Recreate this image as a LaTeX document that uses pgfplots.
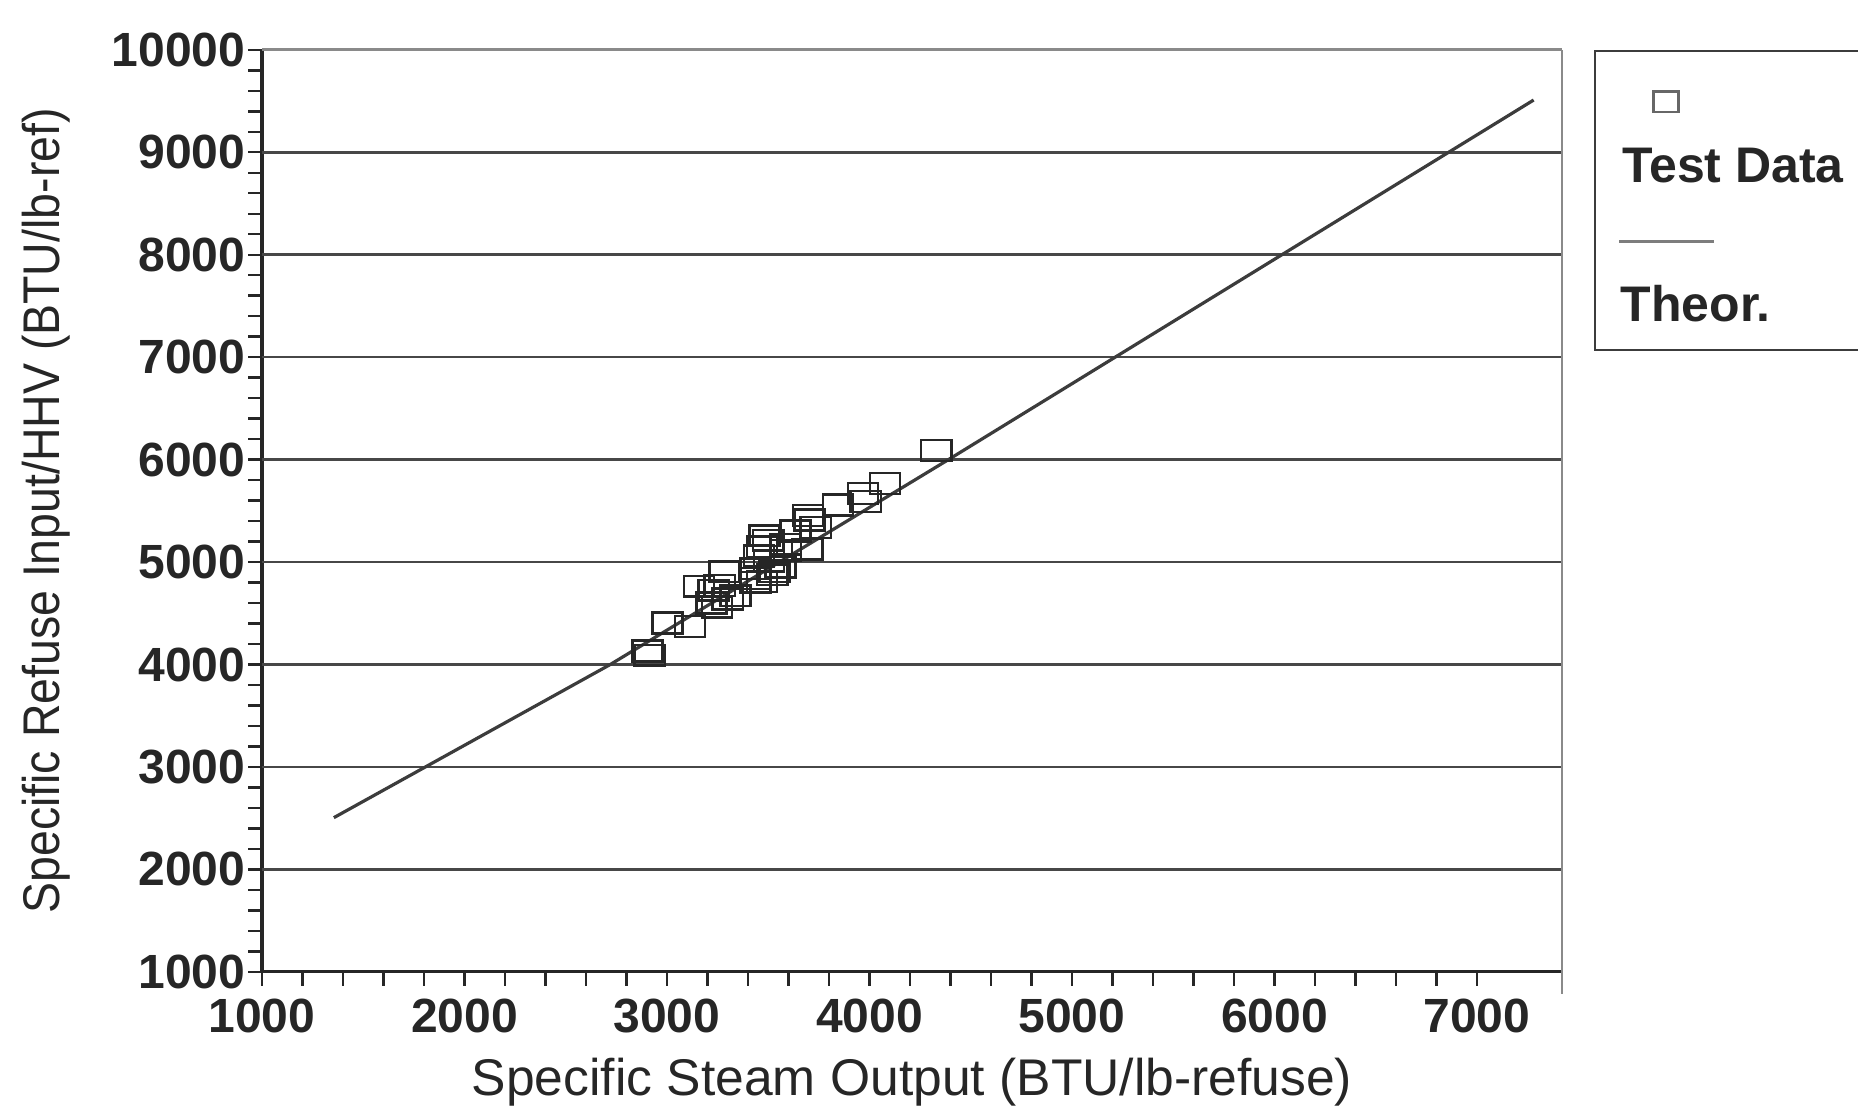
\documentclass[border=0pt]{standalone}
\usepackage{pgfplots}
\pgfplotsset{compat=1.18}
\usepackage{fontspec}
\setmainfont{Liberation Sans}
\definecolor{ink}{HTML}{262626}
\definecolor{frame}{HTML}{8A8A8A}
\begin{document}
\begin{tikzpicture}
\begin{axis}[
  scale only axis,
  width=325pt, height=230.5pt,
  xmin=1000, xmax=7420, ymin=1000, ymax=10000,
  axis lines*=left,
  axis line style={ink, line width=0.8pt},
  xtick={1000,2000,...,7000},
  ytick={1000,2000,...,10000},
  scaled x ticks=false, scaled y ticks=false,
  minor x tick num=4, minor y tick num=4,
  tick align=outside,
  major tick length=3.5pt, minor tick length=3.5pt,
  tick style={ink, line width=0.6pt},
  extra y ticks={2000,3000,...,9000},
  extra y tick labels={},
  extra y tick style={grid=major, major tick length=0pt},
  grid style={ink!85, line width=0.65pt},
  /pgf/number format/assume math mode=true,
  /pgf/number format/1000 sep={},
  xticklabel style={font=\fontsize{12}{14}\selectfont\bfseries, text=ink, inner sep=0pt, anchor=north, yshift=-3pt},
  yticklabel style={font=\fontsize{12}{14}\selectfont\bfseries, text=ink, inner sep=0pt, anchor=east, xshift=-0.5pt},
  every axis x label/.style={at={([yshift=-31pt]rel axis cs:0.5,0)}, anchor=base, font=\fontsize{12.9}{15}\selectfont, text=ink},
  every axis y label/.style={at={([xshift=-54pt]rel axis cs:0,0.5)}, anchor=center, rotate=90, font=\fontsize{12.9}{15}\selectfont, text=ink},
  xlabel={Specific Steam Output (BTU/lb-refuse)},
  ylabel={\scalebox{0.9}[1]{Specific Refuse Input/HHV (BTU/lb-ref)}},
  clip=false,
  legend style={at={(rel axis cs:1.0246,1.0)}, anchor=north west, draw=ink!90, line width=0.6pt,
    inner sep=0pt, row sep=0pt, column sep=0pt, nodes={inner sep=0pt}},
]
\coordinate (sw) at (rel axis cs:0,0);
\draw[frame, line width=0.7pt] (rel axis cs:0,1) -- (rel axis cs:1,1);
\draw[frame, line width=0.6pt] (rel axis cs:1,-0.024) -- (rel axis cs:1,1);

\addplot[only marks, mark=square, mark size=2.6pt,
  mark options={xscale=1.45, line width=0.6pt, draw=ink, fill=none},
  legend image code/.code={
    \path[draw=none, fill=none] (0pt,0pt) rectangle (90pt,-36.6pt);
    \draw[mark options={xscale=1.2, draw=ink!70, line width=0.7pt}] plot coordinates {(17.75pt,-11.9pt)};
    \node[anchor=base west, inner sep=0pt, text=ink, font=\fontsize{12.5}{15}\selectfont\bfseries] at (6.5pt,-32.2pt) {Test Data};
  }]
table {
x y
2904 4131
2915 4090
3003 4405
3113 4372
3157 4765
3231 4725
3247 4560
3220 4600
3284 4905
3338 4670
3300 4640
3437 4840
3437 4803
3470 4812
3437 4934
3520 4875
3531 4905
3503 5010
3470 5148
3455 5060
3586 5115
3693 5125
3482 5257
3500 5210
3635 5303
3586 5175
3734 5336
3704 5411
3696 5455
3845 5557
3968 5670
3981 5592
4077 5765
4330 6090
3260 4773
3560 4950
};
\addlegendentry{}

\addplot[ink!90, line width=0.8pt,
  legend image code/.code={
    \path[draw=none, fill=none] (0pt,0pt) rectangle (90pt,-36.6pt);
    \draw[ink!60, line width=0.7pt] (6pt,-9.6pt) -- (29.75pt,-9.6pt);
    \node[anchor=base west, inner sep=0pt, text=ink, font=\fontsize{12.5}{15}\selectfont\bfseries] at (6pt,-29.6pt) {Theor.};
  }]
coordinates {(1355,2505) (2720,4000) (4390,6000) (7280,9510)};
\addlegendentry{}
\end{axis}
\pgfresetboundingbox
\path (sw) ++(-65.5pt,-33.8pt) rectangle ++(464.5pt,276.75pt);
\end{tikzpicture}
\end{document}
